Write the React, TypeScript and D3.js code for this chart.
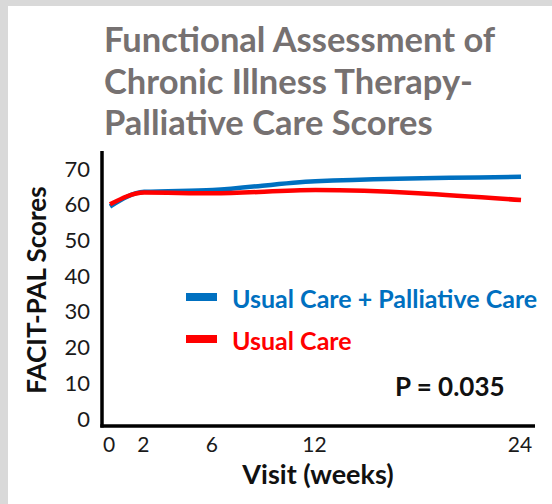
import React from "react";
import * as d3 from "d3";

const weeks = [0, 2, 6, 12, 24];
const palliative = [59.5, 63.6, 64.1, 66.6, 67.8];
const usual = [60.1, 63.4, 63.2, 64.1, 61.3];
const yTicks = [0, 10, 20, 30, 40, 50, 60, 70];
const xTicks = [0, 2, 6, 12, 24];
const titleLines = ["Functional Assessment of", "Chronic Illness Therapy-", "Palliative Care Scores"];
const legendLabels = ["Usual Care + Palliative Care", "Usual Care"];
const colors = ["#0070c0", "#ff0000"];

const W = 552;
const H = 504;
const FONT = "Lato, 'Open Sans', sans-serif";

export default function App() {
  const x = d3.scaleLinear().domain([0, 24]).range([110, 521]);
  const y = d3.scaleLinear().domain([0, 70]).range([419, 169]);
  const line = d3
    .line<number>()
    .x((_, i) => x(weeks[i]))
    .y((d) => y(d))
    .curve(d3.curveMonotoneX);
  const series = [palliative, usual];

  return (
    <svg
      width={W}
      height={H}
      style={{ position: "absolute", left: 0, top: 0, background: "#fff" }}
      fontFamily={FONT}
    >
      <rect x={0} y={0} width={W} height={H} fill="#fff" />
      <rect x={0} y={0} width={8} height={H} fill="#d9d9d9" />
      <rect x={0} y={0} width={W} height={6} fill="#d9d9d9" />

      {titleLines.map((t, i) => (
        <text
          key={t}
          x={104}
          y={52 + i * 41.5}
          fontSize={34.5}
          fontWeight="bold"
          fill="#767171"
        >
          {t}
        </text>
      ))}

      {/* axes */}
      <line x1={102} y1={151} x2={102} y2={427.5} stroke="#000" strokeWidth={3.5} />
      <line x1={100.3} y1={426} x2={535} y2={426} stroke="#000" strokeWidth={3.5} />

      {yTicks.map((v) => (
        <text key={v} x={90} y={y(v) + 7.5} fontSize={22} textAnchor="end" fill="#1a1a1a">
          {v}
        </text>
      ))}
      {xTicks.map((v) => (
        <text key={v} x={x(v) - 1} y={452} fontSize={21} textAnchor="middle" fill="#1a1a1a">
          {v}
        </text>
      ))}

      <text
        transform="translate(46,290) rotate(-90)"
        fontSize={26}
        fontWeight="bold"
        textAnchor="middle"
        fill="#111"
      >
        FACIT-PAL Scores
      </text>
      <text x={318} y={484} fontSize={27} fontWeight="bold" textAnchor="middle" fill="#111">
        Visit (weeks)
      </text>

      {series.map((s, i) => (
        <path
          key={i}
          d={line(s) || ""}
          fill="none"
          stroke={colors[i]}
          strokeWidth={4.5}
          strokeLinecap="butt"
        />
      ))}

      {legendLabels.map((l, i) => (
        <g key={l}>
          <rect x={186} y={293 + i * 42} width={31} height={8} fill={colors[i]} />
          <text x={232} y={308 + i * 42} fontSize={25} fontWeight="bold" fill={colors[i]}>
            {l}
          </text>
        </g>
      ))}

      <text x={395} y={396} fontSize={26} fontWeight="bold" fill="#111">
        P = 0.035
      </text>
    </svg>
  );
}
